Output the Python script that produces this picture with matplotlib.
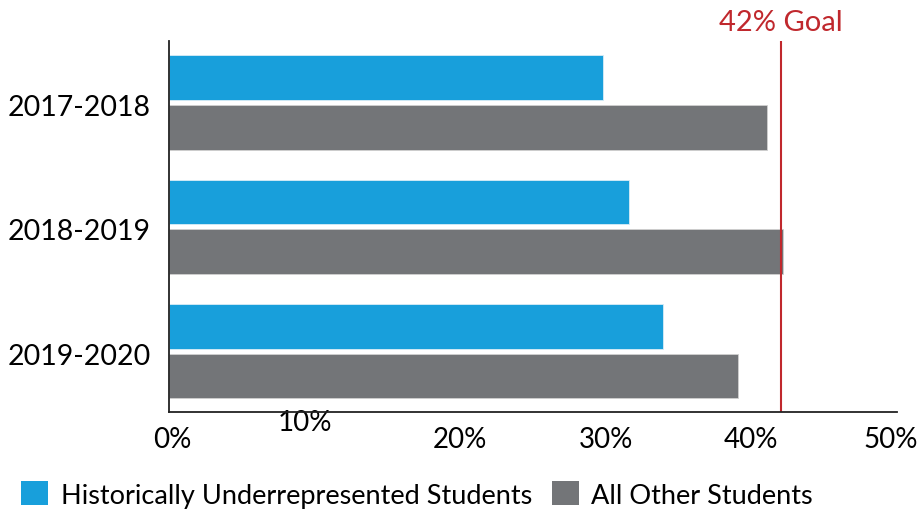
import matplotlib
matplotlib.use("Agg")
import matplotlib.pyplot as plt
import matplotlib.transforms as mtransforms
from matplotlib.patches import Patch
import numpy as np

years = ["2017-2018", "2018-2019", "2019-2020"]
underrep = [29.8, 31.6, 33.9]
others = [41.1, 42.2, 39.1]
goal = 42
xticks = [0, 10, 20, 30, 40, 50]
xticklabels = ["0%", "10%", "20%", "30%", "40%", "50%"]
series_names = ["Historically Underrepresented Students", "All Other Students"]

BLUE = "#189fdb"
GRAY = "#737578"
RED = "#c0282d"

plt.rcParams['font.family'] = ['Lato', 'DejaVu Sans']

W, H = 919, 510
fig = plt.figure(figsize=(W / 100, H / 100), dpi=100)
ax = fig.add_axes([169 / W, 1 - 413 / H, (897 - 169) / W, (413 - 42) / H])

y = np.arange(len(years))
h = 0.36
ax.barh(y - 0.2, underrep, height=h, color=BLUE, edgecolor="#d8ecf6", linewidth=0.6)
ax.barh(y + 0.2, others, height=h, color=GRAY, edgecolor="#d0d0d0", linewidth=0.6)

ax.axvline(goal, color=RED, linewidth=1.5)
ax.text(goal, -0.54, f"{goal}% Goal", color=RED, fontsize=21, ha="center", va="bottom",
        transform=ax.transData, clip_on=False)

ax.set_xlim(0, 50)
ax.set_ylim(2.49, -0.495)
ax.set_yticks(y)
ax.set_yticklabels(years, fontsize=20.5)
ax.set_xticks(xticks)
ax.set_xticklabels(xticklabels, fontsize=20)
ax.tick_params(length=0, pad=10)
ax.tick_params(axis="y", pad=13)

for lbl, t in zip(ax.get_xticklabels(), xticks):
    if t == 10:
        lbl.set_transform(lbl.get_transform() + mtransforms.ScaledTranslation(-10 / 100, 17 / 100, fig.dpi_scale_trans))
    if t == 50:
        lbl.set_transform(lbl.get_transform() + mtransforms.ScaledTranslation(-6 / 100, 0, fig.dpi_scale_trans))
    if t == 0:
        lbl.set_transform(lbl.get_transform() + mtransforms.ScaledTranslation(3 / 100, 0, fig.dpi_scale_trans))

for lbl in ax.get_yticklabels():
    lbl.set_transform(lbl.get_transform() + mtransforms.ScaledTranslation(0, -2 / 100, fig.dpi_scale_trans))

for s in ["top", "right"]:
    ax.spines[s].set_visible(False)
for s in ["left", "bottom"]:
    ax.spines[s].set_linewidth(1.3)
    ax.spines[s].set_color("#222222")

handles = [Patch(facecolor=BLUE), Patch(facecolor=GRAY)]
fig.legend(handles, series_names, loc="lower left", bbox_to_anchor=(20 / W, 0), ncol=2,
           frameon=False, fontsize=19.5, handlelength=1.0, handleheight=1.0,
           handletextpad=0.45, columnspacing=0.75, borderpad=0.05, borderaxespad=0)

fig.savefig("out.png", dpi=100)
